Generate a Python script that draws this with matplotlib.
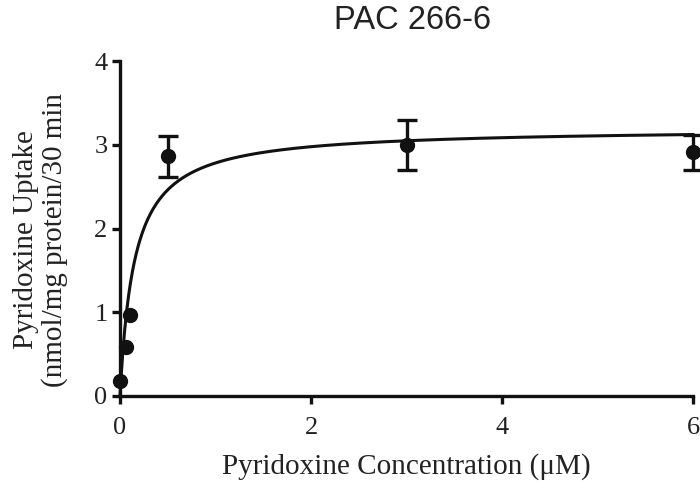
import numpy as np
import matplotlib.pyplot as plt

# measured points
conc = [0, 0.06, 0.1, 0.5, 3, 6]
uptake = [0.18, 0.58, 0.97, 2.86, 3.0, 2.91]
err = [0, 0, 0, 0.24, 0.3, 0.21]

# Michaelis-Menten fit parameters
vmax = 3.2
km = 0.15

xticks = [0, 2, 4, 6]
yticks = [0, 1, 2, 3, 4]

fig = plt.figure(figsize=(7, 4.82), dpi=100)
ax = fig.add_axes([120/700, 1-396/482, 573/700, 335/482])

xf = np.linspace(0, 6, 600)
ax.plot(xf, vmax*xf/(km+xf), color='#111111', lw=2.2, clip_on=False)

# points with and without error bars
xe = [c for c, e in zip(conc, err) if e > 0]
ye = [u for u, e in zip(uptake, err) if e > 0]
ee = [e for e in err if e > 0]
x0 = [c for c, e in zip(conc, err) if e == 0]
y0 = [u for u, e in zip(uptake, err) if e == 0]
ax.errorbar(xe, ye, yerr=ee, fmt='o', color='#111111', ms=10,
            elinewidth=2.4, capsize=7, capthick=2.4, clip_on=False, zorder=3)
ax.plot(x0, y0, 'o', color='#111111', ms=10, clip_on=False, zorder=3)

ax.set_xlim(0, 6)
ax.set_ylim(0, 4)
ax.set_xticks(xticks)
ax.set_yticks(yticks)
for s in ['top', 'right']:
    ax.spines[s].set_visible(False)
for s in ['left', 'bottom']:
    ax.spines[s].set_linewidth(2.4)
    ax.spines[s].set_color('#111111')
ax.tick_params(width=2.4, length=6, color='#111111', labelsize=19, pad=3)
ax.tick_params(axis='x', pad=9)
for lab in ax.get_xticklabels() + ax.get_yticklabels():
    lab.set_family('Liberation Serif')
    lab.set_color('#222222')

ax.set_xlabel('Pyridoxine Concentration (\u03bcM)', family='Liberation Serif',
              fontsize=21, color='#222222', labelpad=10)
ax.set_ylabel('Pyridoxine Uptake\n(nmol/mg protein/30 min', family='Liberation Serif',
              fontsize=21, color='#222222', linespacing=1.1)
ax.yaxis.set_label_coords(-0.09, 0.466)
ax.set_title('PAC 266-6', family='Liberation Sans', fontsize=23.5, color='#222222',
             pad=23, x=0.511)

fig.savefig('out.png', dpi=100)
